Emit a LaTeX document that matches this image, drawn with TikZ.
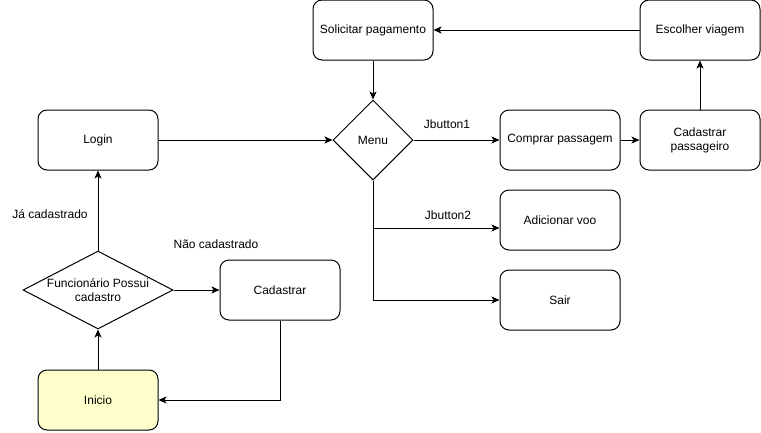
\documentclass[tikz,border=0pt]{standalone}
\usepackage{fontspec}
\setmainfont{Liberation Sans}
\usetikzlibrary{shapes.geometric,arrows.meta}
\definecolor{startfill}{HTML}{FFFFCC}
\begin{document}
\begin{tikzpicture}[x=1pt,y=-1pt,
  every node/.style={font=\fontsize{12}{14}\selectfont},
  box/.style={draw=black, line width=1pt, rounded corners=9pt, minimum width=120pt, minimum height=60pt, inner sep=0pt, align=center, fill=white},
  diam/.style={draw=black, line width=1pt, diamond, inner sep=0pt, fill=white},
  conn/.style={draw=black, line width=1pt, -{Stealth[length=8pt,width=7pt,inset=2pt]}},
  lbl/.style={inner sep=0pt}]
\useasboundingbox (0,0) rectangle (761,432);
\node[box] (login) at (98,140) {Login};
\node[diam, minimum width=150pt, minimum height=78pt, label={[align=center, font=\fontsize{12}{14}\selectfont]center:Funcionário Possui\\cadastro}] (dec) at (98,290) {};
\node[box, fill=startfill] (ini) at (98,400) {Inicio};
\node[box] (cad) at (280,290) {Cadastrar};
\node[diam, minimum width=80pt, minimum height=80pt] (menu) at (373,140) {Menu};
\node[box] (sol) at (373,30) {Solicitar pagamento};
\node[box] (esc) at (700,30) {Escolher viagem};
\node[box] (comp) at (560,140) {Comprar passagem};
\node[box] (cp) at (700,140) {Cadastrar\\passageiro};
\node[box] (adic) at (560,220) {Adicionar voo};
\node[box] (sair) at (560,300) {Sair};
\draw[conn] (ini.north) -- (dec.south);
\draw[conn] (dec.north) -- (login.south);
\draw[conn] (dec.east) -- (cad.west);
\draw[conn] (cad.south) |- (ini.east);
\draw[conn] (login.east) -- (menu.west);
\draw[conn] (sol.south) -- (menu.north);
\draw[conn] (menu.east) -- (comp.west);
\draw[conn] (comp.east) -- (cp.west);
\draw[conn] (cp.north) -- (esc.south);
\draw[conn] (esc.west) -- (sol.east);
\draw[conn] (menu.south) |- ([yshift=-8pt]adic.west);
\draw[conn] (menu.south) |- (sair.west);
\node[lbl] (l1) at (447,124) {Jbutton1};
\node[lbl] (l2) at (448,215) {Jbutton2};
\node[lbl] (l3) at (50,214) {Já cadastrado};
\node[lbl] (l4) at (216,244) {Não cadastrado};
\end{tikzpicture}
\end{document}
